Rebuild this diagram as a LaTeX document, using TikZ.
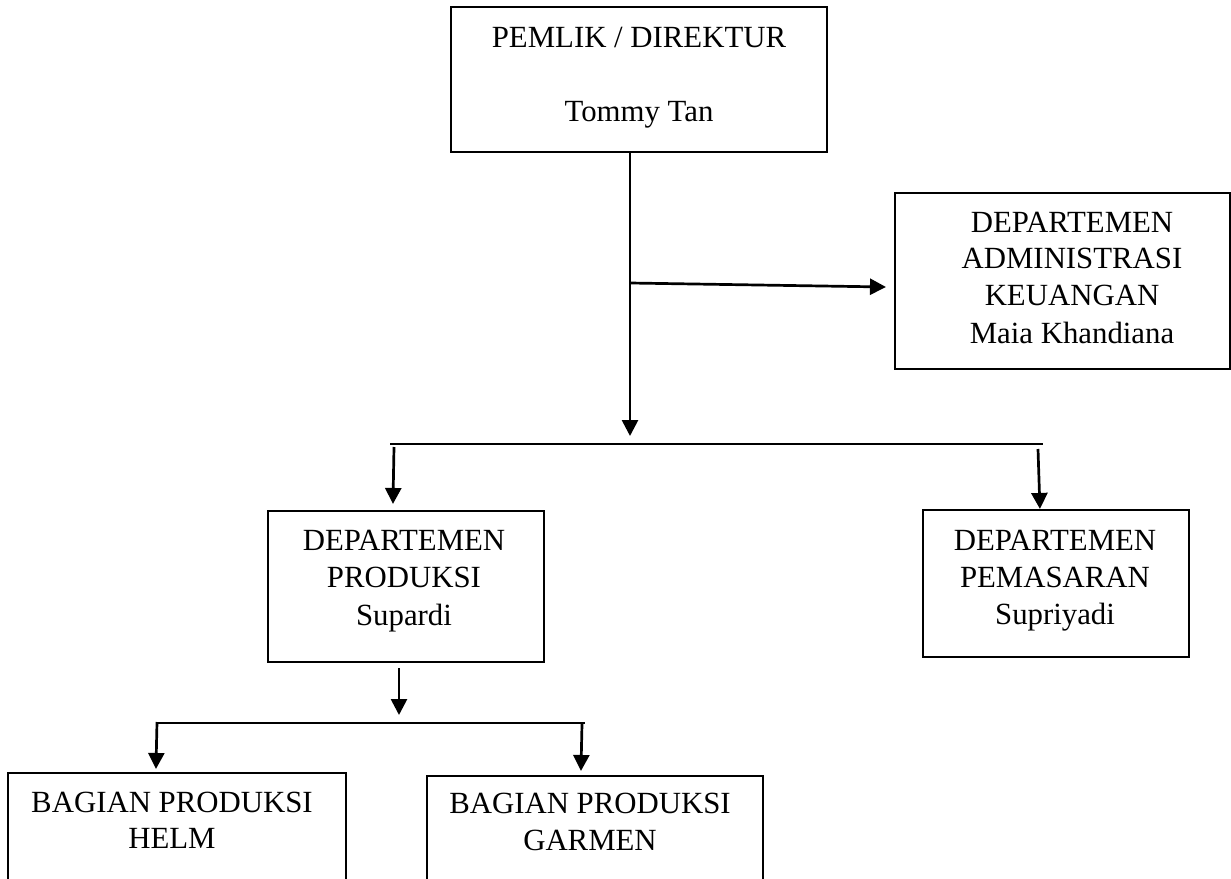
\documentclass[tikz,border=0pt]{standalone}
\usepackage{fontspec}
\setmainfont{Liberation Serif}
\usetikzlibrary{arrows.meta,calc}
\begin{document}
\begin{tikzpicture}[x=1pt,y=-1pt,
  boxst/.style={draw=black, line width=2.1pt, rectangle, inner sep=0pt, fill=none},
  lbl/.style={anchor=base, inner sep=0pt, font=\fontsize{30.8}{37}\selectfont},
  conn/.style={draw=black, line width=2.7pt},
  arrw/.style={conn, -{Triangle[length=16pt,width=16pt]}}]
\clip (0,0) rectangle (1231,878);
\fill[white] (0,0) rectangle (1231,878);
% boxes
\node[boxst, minimum width=376, minimum height=145] (top) at (639,79.5) {};
\node[boxst, minimum width=335, minimum height=176] (admin) at (1062.5,281) {};
\node[boxst, minimum width=276, minimum height=151] (prod) at (406,586.5) {};
\node[boxst, minimum width=266, minimum height=147] (pem) at (1056,583.5) {};
\node[boxst, minimum width=338, minimum height=147] (helm) at (177,846.5) {};
\node[boxst, minimum width=336, minimum height=144] (garm) at (595,848) {};
% texts
\node[lbl] (t1) at (639,47) {PEMLIK / DIREKTUR};
\node[lbl] (t2) at (639,121) {Tommy Tan};
\node[lbl] (a1) at (1072,232) {DEPARTEMEN};
\node[lbl] (a2) at (1072,268) {ADMINISTRASI};
\node[lbl] (a3) at (1072,305) {KEUANGAN};
\node[lbl] (a4) at (1072,343) {Maia Khandiana};
\node[lbl] (p1) at (404,550) {DEPARTEMEN};
\node[lbl] (p2) at (404,587) {PRODUKSI};
\node[lbl] (p3) at (404,625) {Supardi};
\node[lbl] (m1) at (1055,550) {DEPARTEMEN};
\node[lbl] (m2) at (1055,587) {PEMASARAN};
\node[lbl] (m3) at (1055,624) {Supriyadi};
\node[lbl] (h1) at (172,812) {BAGIAN PRODUKSI};
\node[lbl] (h2) at (172,848) {HELM};
\node[lbl] (g1) at (590,813) {BAGIAN PRODUKSI};
\node[lbl] (g2) at (590,850) {GARMEN};
% junction coordinates
\coordinate (c1) at (630,436);
\coordinate (c2) at (630,283);
\coordinate (b1L) at (390,444);
\coordinate (b1R) at (1043,444);
\coordinate (c3) at (399,715);
\coordinate (b2L) at (157,723);
\coordinate (b2R) at (585,723);
% connectors
\draw[arrw] (top.south -| c1) -- (c1);
\draw[arrw] (c2) -- ($(admin.west)+(-8,6)$);
\draw[conn] (b1L) -- (b1R);
\draw[arrw] ($(b1L)+(4,3)$) -- ($(prod.north west)+(126,-6)$);
\draw[arrw] ($(b1R)+(-5,5)$) -- ($(pem.north west)+(118,0)$);
\draw[arrw] ($(prod.south)+(-7,5)$) -- (c3);
\draw[conn] (b2L) -- (b2R);
\draw[arrw] ($(b2L)+(0,-1)$) -- ($(helm.north west)+(149,-3)$);
\draw[arrw] ($(b2R)+(-3,1)$) -- ($(garm.north west)+(155,-4)$);
\end{tikzpicture}
\end{document}
